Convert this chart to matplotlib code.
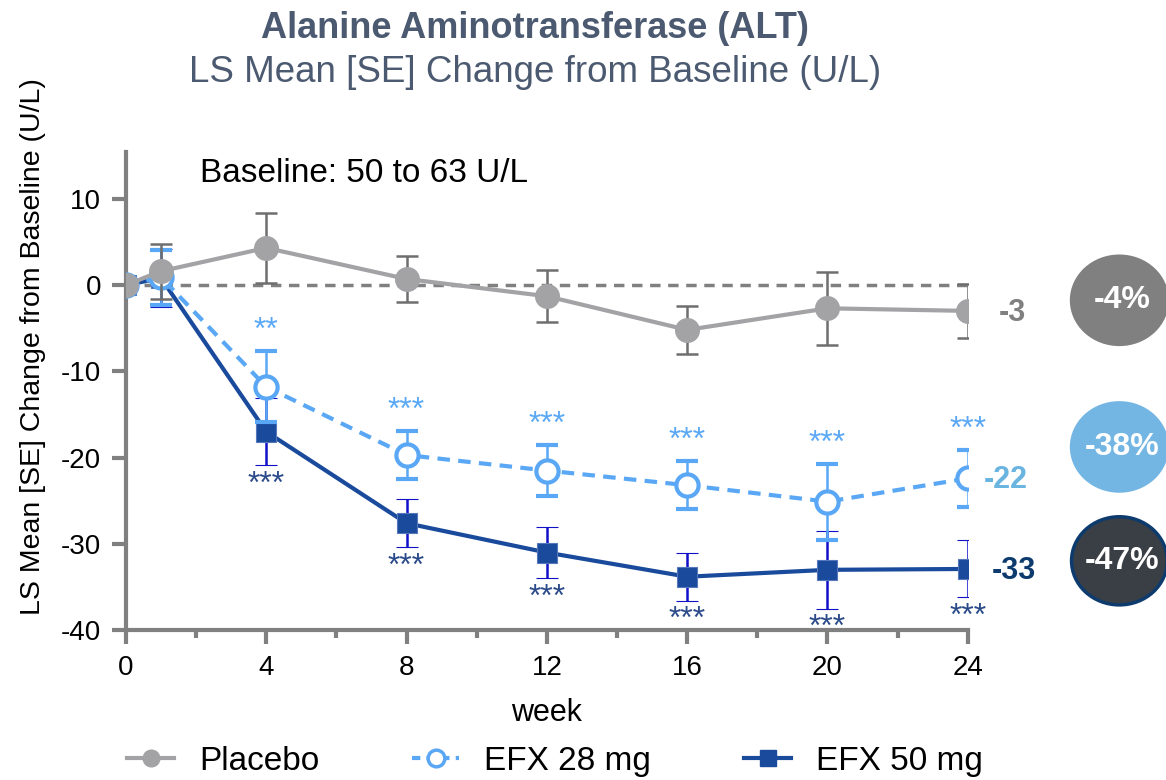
import numpy as np
import matplotlib.pyplot as plt
from matplotlib.patches import Ellipse

plt.rcParams['font.family'] = ['Liberation Sans', 'DejaVu Sans']
plt.rcParams['axes.unicode_minus'] = False

weeks = [0, 1, 4, 8, 12, 16, 20, 24]

placebo = [0, 1.6, 4.3, 0.7, -1.3, -5.2, -2.7, -3.0]
placebo_se = [0, 3.2, 4.1, 2.7, 3.0, 2.8, 4.2, 3.1]

efx28 = [0, 0.9, -11.8, -19.7, -21.5, -23.2, -25.1, -22.4]
efx28_se = [0, 3.2, 4.1, 2.8, 3.0, 2.8, 4.4, 3.3]

efx50 = [0, 0.8, -17.0, -27.6, -31.0, -33.8, -33.0, -32.9]
efx50_se = [0, 3.4, 3.9, 2.8, 3.0, 2.8, 4.5, 3.3]

stars28 = ['', '', '**', '***', '***', '***', '***', '***']
stars50 = ['', '', '***', '***', '***', '***', '***', '***']

end_labels = ['-3', '-22', '-33']
pct_labels = ['-4%', '-38%', '-47%']

grey = '#a3a3a6'
light = '#5aa8f5'
dark = '#1a4a9c'
title_col = '#4b5a70'

fig = plt.figure(figsize=(11.66, 7.8), dpi=100)
ax = fig.add_axes([0.108, 0.192, 0.722, 0.613])

ax.axhline(0, color='#808080', lw=2.5, ls=(0, (3, 2.2)), zorder=1)

# EFX 50 mg
ax.errorbar(weeks, efx50, yerr=efx50_se, color=dark, ecolor='#1010c8', elinewidth=1.8,
            capsize=8, capthick=1.8, lw=3, marker='s', ms=15, mfc=dark, mec='#5577bb',
            mew=0.8, zorder=3)
# EFX 28 mg
ax.errorbar(weeks, efx28, yerr=efx28_se, color=light, ecolor=light, elinewidth=1.8,
            capsize=8, capthick=1.8, lw=3, ls=(0, (3, 2)), marker='o', ms=16, mfc='white',
            mec=light, mew=3, zorder=4)
# Placebo
ax.errorbar(weeks, placebo, yerr=placebo_se, color=grey, ecolor='#6e6e6e', elinewidth=1.8,
            capsize=8, capthick=1.8, lw=3, marker='o', ms=17, mfc=grey, mec=grey, zorder=5)

for w, v, s, t in zip(weeks, efx28, efx28_se, stars28):
    if t:
        ax.text(w, v + s + 0.6, t, color=light, fontsize=23, ha='center', va='bottom')
for w, v, s, t in zip(weeks, efx50, efx50_se, stars50):
    if t:
        ax.text(w, v - s - 0.5, t, color='#2a4a8a', fontsize=23, ha='center', va='top')

ax.set_xlim(0, 24)
ax.set_ylim(-40, 15.4)
ax.set_xticks(range(0, 25, 4))
ax.set_xticks(range(2, 25, 4), minor=True)
ax.set_yticks(range(-40, 11, 10))
for side in ['top', 'right']:
    ax.spines[side].set_visible(False)
for side in ['left', 'bottom']:
    ax.spines[side].set_color('#808080')
    ax.spines[side].set_linewidth(3)
ax.tick_params(which='major', length=10, width=3, color='#808080', labelsize=20, pad=8)
ax.tick_params(which='minor', length=6, width=3, color='#808080')

ax.set_xlabel('week', fontsize=22, labelpad=12)
ax.set_ylabel('LS Mean [SE] Change from Baseline (U/L)', fontsize=20.5)
ax.yaxis.set_label_coords(-0.095, 0.594)

ax.text(2.1, 12.9, 'Baseline: 50 to 63 U/L', fontsize=24, ha='left', va='center')

fig.text(0.459, 0.963, 'Alanine Aminotransferase (ALT)', fontsize=26, fontweight='bold',
         color=title_col, ha='center', va='center')
fig.text(0.459, 0.907, 'LS Mean [SE] Change from Baseline (U/L)', fontsize=26.5,
         color=title_col, ha='center', va='center')

# values at week 24 beside the lines
end_cols = ['#808080', '#6ab4e0', '#0d3b6e']
end_dx = [32, 27, 33]
for v, t, c, dx in zip([placebo[-1], efx28[-1], efx50[-1]], end_labels, end_cols, end_dx):
    ax.annotate(t, (24, v), xytext=(dx, -1.5), textcoords='offset points', fontsize=22,
                fontweight='bold', color=c, ha='center', va='center', annotation_clip=False)

# percent change badges
badge_y = [0.615, 0.427, 0.281]
badge_fc = ['#808080', '#74b6e3', '#3a3f45']
badge_ec = ['#808080', '#74b6e3', '#0d3b6e']
for y, t, fc, ec in zip(badge_y, pct_labels, badge_fc, badge_ec):
    e = Ellipse((0.960, y), 0.082, 0.113, transform=fig.transFigure, fc=fc, ec=ec, lw=2.5)
    fig.add_artist(e)
    fig.text(0.962, y, t, fontsize=23, fontweight='bold', color='white', ha='center',
             va='center')

h1 = plt.Line2D([], [], color=grey, lw=3, marker='o', ms=12, mfc=grey, mec=grey)
h2 = plt.Line2D([], [], color=light, lw=3, ls=(0, (2, 1.5)), marker='o', ms=12, mfc='white',
                mec=light, mew=2.5)
h3 = plt.Line2D([], [], color=dark, lw=3, marker='s', ms=12, mfc=dark, mec=dark)
fig.legend([h1, h2, h3], ['Placebo', 'EFX 28 mg', 'EFX 50 mg'], loc='center',
           bbox_to_anchor=(0.476, 0.024), ncol=3, frameon=False, fontsize=24,
           handlelength=1.4, columnspacing=2.8, handletextpad=0.75)

fig.savefig('out.png', dpi=100)
